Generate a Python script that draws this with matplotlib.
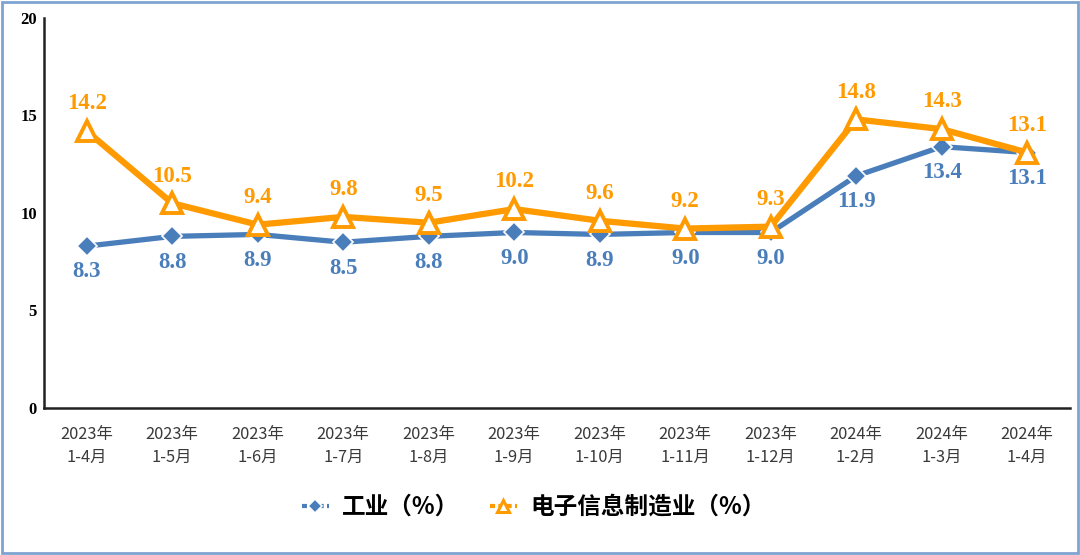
import matplotlib.pyplot as plt
from matplotlib.patches import Rectangle

plt.rcParams['font.family'] = ['Noto Sans CJK SC', 'DejaVu Sans']

# Data
months = ['2023年\n1-4月', '2023年\n1-5月', '2023年\n1-6月', '2023年\n1-7月',
          '2023年\n1-8月', '2023年\n1-9月', '2023年\n1-10月', '2023年\n1-11月',
          '2023年\n1-12月', '2024年\n1-2月', '2024年\n1-3月', '2024年\n1-4月']
industry = [8.3, 8.8, 8.9, 8.5, 8.8, 9.0, 8.9, 9.0, 9.0, 11.9, 13.4, 13.1]
electronics = [14.2, 10.5, 9.4, 9.8, 9.5, 10.2, 9.6, 9.2, 9.3, 14.8, 14.3, 13.1]
yticks = [0, 5, 10, 15, 20]

blue = '#4A7EBB'
orange = '#FF9A00'

fig = plt.figure(figsize=(10.8, 5.55), dpi=100)
ax = fig.add_axes([0.0407, 0.2649, 0.95, 0.7027])

x = list(range(len(months)))
ax.plot(x, industry, color=blue, lw=3.8, marker='D', ms=10,
        mfc=blue, mec='white', mew=1.2, label='工业（%）', zorder=3)
ax.plot(x, electronics, color=orange, lw=4.5, marker='^', ms=14,
        mfc='white', mec=orange, mew=2.8, label='电子信息制造业（%）', zorder=4)

# Value labels
for xi, v in zip(x, industry):
    ax.annotate(f'{v:.1f}', (xi, v), xytext=(0, -11), textcoords='offset points',
                ha='center', va='top', color=blue, fontsize=16.5, fontweight='bold',
                family='Liberation Serif')
for xi, v in zip(x, electronics):
    ax.annotate(f'{v:.1f}', (xi, v), xytext=(0, 12), textcoords='offset points',
                ha='center', va='bottom', color=orange, fontsize=16.5, fontweight='bold',
                family='Liberation Serif')

ax.set_xlim(-0.5, len(months) - 0.5)
ax.set_ylim(0, 20)
ax.set_yticks(yticks)
ax.set_yticklabels([str(t) for t in yticks], family='Liberation Serif',
                   fontweight='bold', fontsize=12)
ax.set_xticks(x)
ax.set_xticklabels(months, fontsize=11.8, color='#3a3a3a', linespacing=1.45)
ax.tick_params(axis='both', length=0)
ax.tick_params(axis='x', pad=13)
ax.tick_params(axis='y', pad=5)

for s in ['top', 'right']:
    ax.spines[s].set_visible(False)
for s in ['left', 'bottom']:
    ax.spines[s].set_linewidth(1.8)
    ax.spines[s].set_color('#222222')

leg = fig.legend(loc='center', bbox_to_anchor=(0.494, 0.0865), ncol=2, frameon=False,
                 prop={'size': 17, 'weight': 'bold'}, handlelength=1.15,
                 columnspacing=1.3, handletextpad=0.55)
for line in leg.get_lines():
    line.set_linewidth(3)
    line.set_linestyle((0, (1.2, 0.8)))
leg.get_lines()[0].set_markersize(7)
leg.get_lines()[1].set_markersize(8)
leg.get_lines()[1].set_markeredgewidth(2.2)

# Outer frame
fig.patches.append(Rectangle((0.002, 0.003), 0.996, 0.994, transform=fig.transFigure,
                             fill=False, edgecolor='#7FA3D0', lw=2))

fig.savefig('out.png', dpi=100)
